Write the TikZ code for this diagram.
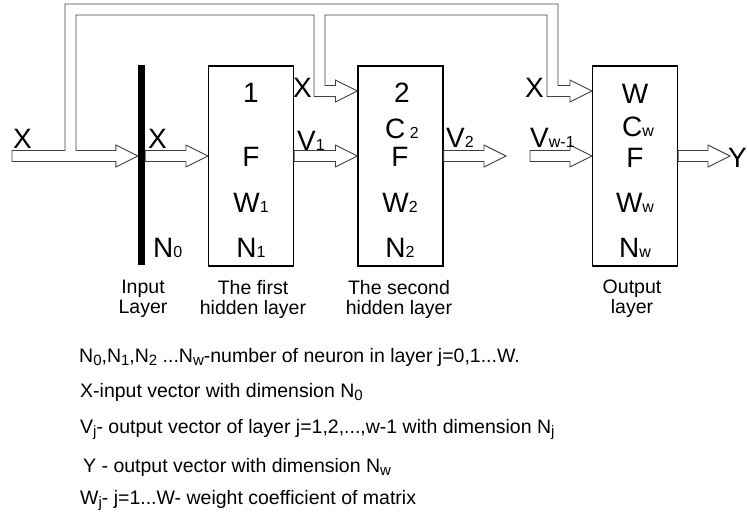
\documentclass[tikz,border=0pt]{standalone}
\usepackage{fontspec}
\setmainfont{Liberation Sans}
\usetikzlibrary{calc}

% small letters set on the line (boxes, labels) and in the notes
\newcommand{\bsub}[1]{{\fontsize{16}{16}\selectfont #1}}
\newcommand{\nsub}[1]{\raisebox{-3pt}{\fontsize{15}{15}\selectfont #1}}

% hollow arrow from #1 to the tip #2, both on one row
\newcommand{\fatarrow}[2]{%
  \draw[tube] ($(#1)+(0,-5.5)$) -- ($(#2)+(-22,-5.5)$) -- ($(#2)+(-22,-11)$) -- (#2)
    -- ($(#2)+(-22,11)$) -- ($(#2)+(-22,5.5)$) -- ($(#1)+(0,5.5)$) -- cycle;}

\tikzset{
  layer/.style={draw=black, line width=1.1pt, minimum width=85pt, minimum height=200pt, inner sep=0pt},
  tube/.style={draw=black!75, line width=0.9pt, fill=white, line join=miter},
  big/.style={inner sep=0pt, anchor=base, font=\fontsize{28}{30}\selectfont},
  lab/.style={inner sep=0pt, anchor=base west, font=\fontsize{28}{30}\selectfont},
  layername/.style={inner sep=0pt, align=center, anchor=north, font=\fontsize{19.5}{20}\selectfont},
  note/.style={inner sep=0pt, anchor=base west, font=\fontsize{19.5}{20}\selectfont},
}

\begin{document}
\begin{tikzpicture}[x=1pt,y=-1pt]
            \useasboundingbox (0,0) rectangle (747,514);
            \coordinate (row) at (0,156);
            \coordinate (fb) at (0,91);
            \coordinate (in) at (12,156);
            \coordinate (v2) at (506,156);
            \coordinate (vw) at (530,156);
            \coordinate (y) at (730,156);

            % Place the layers
            \node[fill=black, minimum width=7pt, minimum height=200pt, inner sep=0pt] (bar) at (141.5,165) {};
            \node[layer] (l1) at (251,166) {};
            \node[layer] (l2) at (400.5,166) {};
            \node[layer] (lw) at (635,166) {};

            % The text in the layers
            \node[big] (l1n) at (251,102) {1};
            \node[big] (l1f) at (251,166) {F};
            \node[big] (l1w) at (251,212) {W\bsub{1}};
            \node[big] (l1m) at (251,257) {N\bsub{1}};
            \node[big] (l2n) at (402,102) {2};
            \node[big] (l2c) at (402,138) {C\,\bsub{2}};
            \node[big] (l2f) at (400,166) {F};
            \node[big] (l2w) at (400,212) {W\bsub{2}};
            \node[big] (l2m) at (400,257) {N\bsub{2}};
            \node[big] (lwn) at (635,103) {W};
            \node[big] (lwc) at (638,136) {C\bsub{w}};
            \node[big] (lwf) at (635,167) {F};
            \node[big] (lww) at (635,212) {W\bsub{w}};
            \node[big] (lwm) at (635,257) {N\bsub{w}};
            \node[lab] (n0) at (153,257) {N\bsub{0}};

            % The input with its by-passes to the layers
            \draw[tube] ($(in)+(0,-5.5)$) -- (65,150.5) -- (65,4) -- (558,4) -- (558,85.5)
              -- ($(lw.west |- fb)+(-22,-5.5)$) -- ++(0,-5.5) -- (lw.west |- fb) -- ++(-22,11) -- ++(0,-5.5)
              -- (547,96.5) -- (547,15) -- (325,15) -- (325,85.5)
              -- ($(l2.west |- fb)+(-22,-5.5)$) -- ++(0,-5.5) -- (l2.west |- fb) -- ++(-22,11) -- ++(0,-5.5)
              -- (314,96.5) -- (314,15) -- (76,15) -- (76,150.5)
              -- ($(bar.west |- row)+(-22,-5.5)$) -- ++(0,-5.5) -- (bar.west |- row) -- ++(-22,11) -- ++(0,-5.5)
              -- ($(in)+(0,5.5)$) -- cycle;

            % The arrows between the layers
            \fatarrow{bar.east |- row}{l1.west |- row}
            \fatarrow{l1.east |- row}{l2.west |- row}
            \fatarrow{l2.east |- row}{v2}
            \fatarrow{vw}{lw.west |- row}
            \fatarrow{lw.east |- row}{y}

            % Labels on the arrows
            \node[lab] (x0) at (13,148) {X};
            \node[lab] (x1) at (148,148) {X};
            \node[lab] (x2) at (293,97) {X};
            \node[lab] (x3) at (525,97) {X};
            \node[lab] (v1l) at (297,150) {V\bsub{1}};
            \node[lab] (v2l) at (446,147) {V\bsub{2}};
            \node[lab] (vwl) at (530,147) {V\bsub{w-1}};
            \node[lab] (yl) at (728,167) {Y};

            % Names of the layers
            \node[layername] (c0) at (143,280) {Input\\Layer};
            \node[layername] (c1) at (253,280) {The first\\hidden layer};
            \node[layername] (c2) at (399,280) {The second\\hidden layer};
            \node[layername] (cw) at (632,280) {Output\\layer};

            % Notes
            \node[note] (t1) at (79,362) {N\nsub{0},N\nsub{1},N\nsub{2} ...N\nsub{w}-number of neuron in layer j=0,1...W.};
            \node[note] (t2) at (80,397) {X-input vector with dimension N\nsub{0}};
            \node[note] (t3) at (80,433) {V\nsub{j}- output vector of layer j=1,2,...,w-1 with dimension N\nsub{j}};
            \node[note] (t4) at (83,472) {Y - output vector with dimension N\nsub{w}};
            \node[note] (t5) at (80,504) {W\nsub{j}- j=1...W- weight coefficient of matrix};
        \end{tikzpicture}
\end{document}
